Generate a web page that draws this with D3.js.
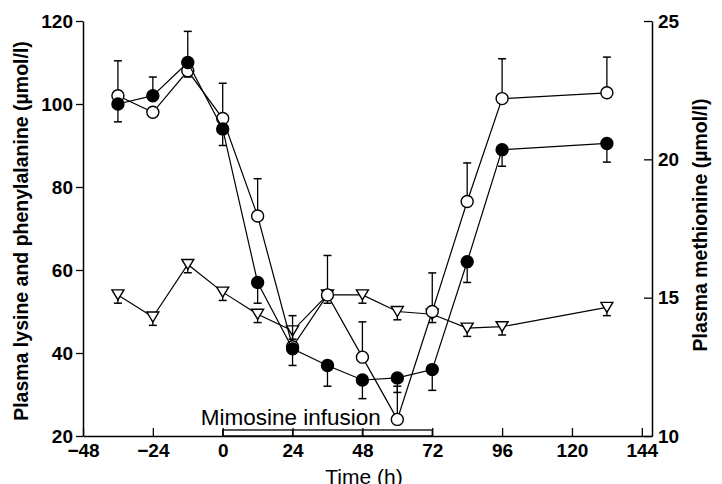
<!DOCTYPE html>
<html>
<head>
<meta charset="utf-8">
<script src="https://cdn.jsdelivr.net/npm/d3@7"></script>
<style>
  body { margin: 0; background: #fff; }
  text { font-family: "Liberation Sans", Arial, sans-serif; fill: #000; }
</style>
</head>
<body>
<script>
// sampling times (h)
var times = [-36, -24, -12, 0, 12, 24, 36, 48, 60, 72, 84, 96, 132];

// filled circles (left axis)
var filledVal = [100, 102, 110, 94, 57, 41, 37, 33.5, 34, 36, 62, 89, 90.5];
var filledErr = [-4.3, 4.5, 7.5, -4, -5, -4, -5, -4.5, -3.5, -5, -5, -4, -4.5];

// open circles (left axis)
var openVal = [102, 98, 108, 96.5, 73, 41.5, 54, 39, 24, 50, 76.5, 101.3, 102.7];
var openErr = [8.4, -1, -1.5, 8.5, 9, 7.5, 9.5, 8.5, 8, 9.3, 9.3, 9.6, 8.6];

// open triangles, methionine (right axis)
var metVal = [15.1, 14.3, 16.2, 15.2, 14.4, 13.8, 15.1, 15.1, 14.5, 14.4, 13.9, 13.95, 14.65];
var metErr = [-0.3, -0.3, -0.3, -0.3, -0.3, -0.3, -0.3, -0.3, -0.3, -0.3, -0.3, -0.3, -0.3];

var xTicks = [-48, -24, 0, 24, 48, 72, 96, 120, 144];
var leftTicks = [20, 40, 60, 80, 100, 120];
var rightTicks = [10, 15, 20, 25];
var infusion = [0, 24, 48, 72];

var width = 722, height = 484;
var plotL = 83, plotR = 652, plotT = 21, plotB = 436;

var svg = d3.select('body').append('svg')
  .attr('width', width)
  .attr('height', height);

var x = d3.scaleLinear().domain([-48, 147.5]).range([plotL, plotR]);
var yL = d3.scaleLinear().domain([20, 120]).range([plotB, plotT]);
var yR = d3.scaleLinear().domain([10, 25]).range([plotB, plotT]);

// axes
var xAxis = svg.append('g')
  .attr('transform', 'translate(0,' + plotB + ')')
  .call(d3.axisBottom(x).tickValues(xTicks).tickSizeInner(-8).tickSizeOuter(0).tickPadding(8));
var lAxis = svg.append('g')
  .attr('transform', 'translate(' + plotL + ',0)')
  .call(d3.axisLeft(yL).tickValues(leftTicks).tickSizeInner(7).tickSizeOuter(0).tickPadding(3));
var rAxis = svg.append('g')
  .attr('transform', 'translate(' + plotR + ',0)')
  .call(d3.axisRight(yR).tickValues(rightTicks).tickSizeInner(-8).tickSizeOuter(0).tickPadding(6));

[xAxis, lAxis, rAxis].forEach(function(a) {
  a.select('.domain').attr('stroke', '#000').attr('stroke-width', 1.5);
  a.selectAll('.tick line').attr('stroke', '#000').attr('stroke-width', 1.3);
  a.selectAll('.tick text')
    .style('font-size', '19px')
    .style('font-weight', 'bold')
    .attr('fill', '#000');
});

// infusion bar
var barH = 6;
svg.append('rect')
  .attr('x', x(infusion[0]))
  .attr('y', plotB - barH)
  .attr('width', x(infusion[3]) - x(infusion[0]))
  .attr('height', barH)
  .attr('fill', 'none')
  .attr('stroke', '#000')
  .attr('stroke-width', 1.3);
svg.selectAll('.div')
  .data(infusion.slice(1, 3))
  .enter().append('line')
  .attr('x1', function(d) { return x(d); })
  .attr('x2', function(d) { return x(d); })
  .attr('y1', plotB - barH)
  .attr('y2', plotB)
  .attr('stroke', '#000')
  .attr('stroke-width', 1.3);
svg.append('text')
  .attr('x', x(0) - 22)
  .attr('y', plotB - 11)
  .style('font-size', '22.5px')
  .text('Mimosine infusion');

// series
function series(vals, errs, y, kind) {
  var pts = times.map(function(t, i) { return { t: t, v: vals[i], e: errs[i] }; });
  var g = svg.append('g');

  g.append('path')
    .datum(pts)
    .attr('fill', 'none')
    .attr('stroke', '#000')
    .attr('stroke-width', 1.2)
    .attr('d', d3.line().x(function(d) { return x(d.t); }).y(function(d) { return y(d.v); }));

  var eb = g.selectAll('.err').data(pts).enter().append('g');
  eb.append('line')
    .attr('x1', function(d) { return x(d.t); })
    .attr('x2', function(d) { return x(d.t); })
    .attr('y1', function(d) { return y(d.v); })
    .attr('y2', function(d) { return y(d.v + d.e); })
    .attr('stroke', '#000').attr('stroke-width', 1.3);
  eb.append('line')
    .attr('x1', function(d) { return x(d.t) - 4; })
    .attr('x2', function(d) { return x(d.t) + 4; })
    .attr('y1', function(d) { return y(d.v + d.e); })
    .attr('y2', function(d) { return y(d.v + d.e); })
    .attr('stroke', '#000').attr('stroke-width', 1.5);

  if (kind === 'tri') {
    g.selectAll('.m').data(pts).enter().append('path')
      .attr('d', function(d) {
        var cx = x(d.t), cy = y(d.v);
        return 'M' + (cx - 6) + ',' + (cy - 5) + 'L' + (cx + 6) + ',' + (cy - 5) + 'L' + cx + ',' + (cy + 5) + 'Z';
      })
      .attr('fill', '#fff')
      .attr('stroke', '#000')
      .attr('stroke-width', 1.4);
  } else {
    g.selectAll('.m').data(pts).enter().append('circle')
      .attr('cx', function(d) { return x(d.t); })
      .attr('cy', function(d) { return y(d.v); })
      .attr('r', 6)
      .attr('fill', kind === 'filled' ? '#000' : '#fff')
      .attr('stroke', '#000')
      .attr('stroke-width', 1.4);
  }
}

series(metVal, metErr, yR, 'tri');
series(openVal, openErr, yL, 'open');
series(filledVal, filledErr, yL, 'filled');

// axis titles
svg.append('text')
  .attr('transform', 'translate(28,231) rotate(-90)')
  .attr('text-anchor', 'middle')
  .style('font-size', '19.5px')
  .style('font-weight', 'bold')
  .text('Plasma lysine and phenylalanine (\u00b5mol/l)');
svg.append('text')
  .attr('transform', 'translate(707,225) rotate(-90)')
  .attr('text-anchor', 'middle')
  .style('font-size', '19.5px')
  .style('font-weight', 'bold')
  .text('Plasma methionine (\u00b5mol/l)');
svg.append('text')
  .attr('x', 364)
  .attr('y', 484)
  .attr('text-anchor', 'middle')
  .style('font-size', '21px')
  .text('Time (h)');
</script>
</body>
</html>
